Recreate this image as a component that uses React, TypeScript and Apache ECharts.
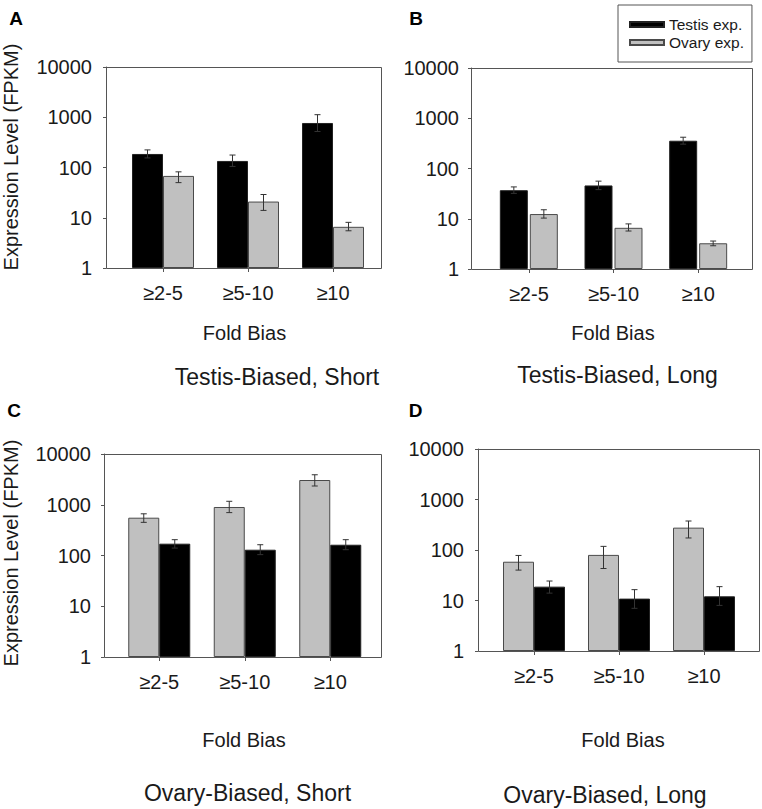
import React, { useEffect, useRef } from "react";
import * as echarts from "echarts";

// ---------- data ----------
const categories = ["≥2-5", "≥5-10", "≥10"];
const yTickValues = [1, 10, 100, 1000, 10000];

// Panel A: Testis-Biased, Short
const testisA = [186, 135, 769];
const testisAHi = [224, 177, 1125];
const testisALo = [155, 105, 520];
const ovaryA = [68, 21, 6.6];
const ovaryAHi = [82, 29, 8.1];
const ovaryALo = [50, 14, 5.5];

// Panel B: Testis-Biased, Long
const testisB = [37, 46, 357];
const testisBHi = [43, 56, 419];
const testisBLo = [32, 38, 305];
const ovaryB = [12.4, 6.6, 3.25];
const ovaryBHi = [15.1, 7.9, 3.6];
const ovaryBLo = [10.3, 5.7, 2.9];

// Panel C: Ovary-Biased, Short
const ovaryC = [556, 903, 3073];
const ovaryCHi = [663, 1170, 3900];
const ovaryCLo = [450, 700, 2340];
const testisC = [171, 130, 163];
const testisCHi = [205, 163, 205];
const testisCLo = [140, 104, 130];

// Panel D: Ovary-Biased, Long
const ovaryD = [58.6, 80, 277];
const ovaryDHi = [78, 118, 375];
const ovaryDLo = [40, 43, 173];
const testisD = [18.8, 10.9, 12.1];
const testisDHi = [24.3, 16.4, 18.8];
const testisDLo = [14, 7, 8];

const panelLetters = ["A", "B", "C", "D"];
const panelTitles = [
  "Testis-Biased, Short",
  "Testis-Biased, Long",
  "Ovary-Biased, Short",
  "Ovary-Biased, Long",
];
const xAxisTitle = "Fold Bias";
const yAxisTitle = "Expression Level (FPKM)";
const seriesNames = ["Testis exp.", "Ovary exp."];

// ---------- styles / layout ----------
const FONT = '"Liberation Sans", Arial, Helvetica, sans-serif';
const TEXT = "#1a1a1a";
const FRAME = "#555";
const BLACK = "#000000";
const GRAY = "#c0c0c0";

type Layout = {
  frame: [number, number, number, number];
  gridLeft: number;
  gridWidth: number;
  barWidth: number;
  barGapPx: number;
  yMargin: number;
  xMargin: number;
  letter: [number, number];
  foldBias: [number, number];
  title: [number, number];
  yTitle?: [number, number];
};

const layouts: Layout[] = [
  {
    frame: [106, 67, 275, 201],
    gridLeft: 120.5,
    gridWidth: 255,
    barWidth: 31,
    barGapPx: 0,
    yMargin: 14,
    xMargin: 15,
    letter: [16, 18.5],
    foldBias: [244.5, 333],
    title: [277, 377],
    yTitle: [11, 157],
  },
  {
    frame: [471, 68, 281, 201],
    gridLeft: 486.5,
    gridWidth: 254,
    barWidth: 28,
    barGapPx: 2,
    yMargin: 12,
    xMargin: 15,
    letter: [416, 18.5],
    foldBias: [613, 333],
    title: [617.5, 375],
  },
  {
    frame: [104, 454, 277, 203],
    gridLeft: 116.5,
    gridWidth: 256.5,
    barWidth: 31,
    barGapPx: 0,
    yMargin: 13,
    xMargin: 15,
    letter: [14, 410],
    foldBias: [244, 740],
    title: [247.5, 793],
    yTitle: [11, 553],
  },
  {
    frame: [478, 449, 281, 202],
    gridLeft: 491.5,
    gridWidth: 255,
    barWidth: 31,
    barGapPx: 0,
    yMargin: 14,
    xMargin: 15,
    letter: [415.5, 410.5],
    foldBias: [623, 740],
    title: [605, 795],
  },
];

type SeriesDef = { name: string; values: number[]; lo: number[]; hi: number[] };

const panelSeries: SeriesDef[][] = [
  [
    { name: seriesNames[0], values: testisA, lo: testisALo, hi: testisAHi },
    { name: seriesNames[1], values: ovaryA, lo: ovaryALo, hi: ovaryAHi },
  ],
  [
    { name: seriesNames[0], values: testisB, lo: testisBLo, hi: testisBHi },
    { name: seriesNames[1], values: ovaryB, lo: ovaryBLo, hi: ovaryBHi },
  ],
  [
    { name: seriesNames[1], values: ovaryC, lo: ovaryCLo, hi: ovaryCHi },
    { name: seriesNames[0], values: testisC, lo: testisCLo, hi: testisCHi },
  ],
  [
    { name: seriesNames[1], values: ovaryD, lo: ovaryDLo, hi: ovaryDHi },
    { name: seriesNames[0], values: testisD, lo: testisDLo, hi: testisDHi },
  ],
];

function itemStyleFor(name: string) {
  if (name === seriesNames[0]) {
    return { color: BLACK, borderColor: "#222", borderWidth: 1 };
  }
  return { color: GRAY, borderColor: "#4a4a4a", borderWidth: 1 };
}

function buildOption() {
  const grids: any[] = [];
  const xAxes: any[] = [];
  const yAxes: any[] = [];
  const series: any[] = [];
  const graphics: any[] = [];

  layouts.forEach((L, p) => {
    const [fx, fy, fw, fh] = L.frame;
    grids.push({
      left: L.gridLeft,
      top: fy,
      width: L.gridWidth,
      height: fh,
      outerBoundsMode: "none",
      containLabel: false,
    });
    xAxes.push({
      type: "category",
      gridIndex: p,
      data: categories,
      axisLine: { show: false },
      axisTick: {
        show: true,
        alignWithLabel: true,
        length: 4,
        lineStyle: { color: FRAME, width: 1 },
      },
      axisLabel: {
        color: TEXT,
        fontFamily: FONT,
        fontSize: 20,
        margin: L.xMargin,
      },
      splitLine: { show: false },
    });
    yAxes.push({
      type: "log",
      logBase: 10,
      gridIndex: p,
      min: yTickValues[0],
      max: yTickValues[yTickValues.length - 1],
      offset: L.gridLeft - fx,
      axisLine: { show: true, lineStyle: { color: FRAME, width: 1 } },
      axisTick: { show: true, length: 3, lineStyle: { color: FRAME, width: 1 } },
      minorTick: { show: false },
      splitLine: { show: false },
      axisLabel: {
        color: TEXT,
        fontFamily: FONT,
        fontSize: 20,
        margin: L.yMargin,
        formatter: (v: number) => String(Math.round(v)),
      },
    });

    const defs = panelSeries[p];
    const bw = L.barWidth;
    const gapPct = ((L.barGapPx / bw) * 100).toFixed(1) + "%";
    defs.forEach((d) => {
      series.push({
        type: "bar",
        name: d.name,
        xAxisIndex: p,
        yAxisIndex: p,
        data: d.values,
        barWidth: bw,
        barGap: gapPct,
        itemStyle: itemStyleFor(d.name),
        z: 2,
      });
    });
    defs.forEach((d, k) => {
      const off = (k === 0 ? -1 : 1) * (bw / 2 + L.barGapPx / 2);
      series.push({
        type: "custom",
        name: d.name + " error",
        xAxisIndex: p,
        yAxisIndex: p,
        z: 5,
        silent: true,
        encode: { x: 0, y: [1, 2] },
        data: categories.map((_, i) => [i, d.lo[i], d.hi[i]]),
        renderItem: (params: any, api: any) => {
          const ci = api.value(0);
          const lo = api.value(1);
          const hi = api.value(2);
          const pLo = api.coord([ci, lo]);
          const pHi = api.coord([ci, hi]);
          const x = pLo[0] + off;
          const cap = 3;
          const style = { stroke: "#333", lineWidth: 1 };
          return {
            type: "group",
            children: [
              { type: "line", shape: { x1: x, y1: pLo[1], x2: x, y2: pHi[1] }, style },
              { type: "line", shape: { x1: x - cap, y1: pHi[1], x2: x + cap, y2: pHi[1] }, style },
              { type: "line", shape: { x1: x - cap, y1: pLo[1], x2: x + cap, y2: pLo[1] }, style },
            ],
          };
        },
      });
    });

    graphics.push({
      type: "rect",
      z: 10,
      silent: true,
      shape: { x: fx + 0.5, y: fy + 0.5, width: fw, height: fh },
      style: { fill: "none", stroke: FRAME, lineWidth: 1 },
    });
    graphics.push({
      type: "text",
      x: L.letter[0],
      y: L.letter[1],
      style: {
        text: panelLetters[p],
        font: `bold 19px ${FONT}`,
        fill: "#000",
        textAlign: "center",
        textVerticalAlign: "middle",
      },
    });
    graphics.push({
      type: "text",
      x: L.foldBias[0],
      y: L.foldBias[1],
      style: {
        text: xAxisTitle,
        font: `20px ${FONT}`,
        fill: TEXT,
        textAlign: "center",
        textVerticalAlign: "middle",
      },
    });
    graphics.push({
      type: "text",
      x: L.title[0],
      y: L.title[1],
      style: {
        text: panelTitles[p],
        font: `23px ${FONT}`,
        fill: TEXT,
        textAlign: "center",
        textVerticalAlign: "middle",
      },
    });
    if (L.yTitle) {
      graphics.push({
        type: "text",
        x: L.yTitle[0],
        y: L.yTitle[1],
        rotation: Math.PI / 2,
        style: {
          text: yAxisTitle,
          font: `20px ${FONT}`,
          fill: TEXT,
          textAlign: "center",
          textVerticalAlign: "middle",
        },
      });
    }
  });

  return {
    animation: false,
    backgroundColor: "#ffffff",
    legend: {
      data: seriesNames,
      orient: "vertical",
      left: 618,
      top: 5,
      padding: [11, 8, 11, 11],
      itemGap: 1,
      itemWidth: 34,
      itemHeight: 5,
      icon: "rect",
      borderColor: FRAME,
      borderWidth: 1,
      borderRadius: 0,
      selectedMode: false,
      textStyle: { fontFamily: FONT, fontSize: 15.5, color: TEXT, lineHeight: 17 },
    },
    grid: grids,
    xAxis: xAxes,
    yAxis: yAxes,
    series,
    graphic: graphics,
  };
}

export default function App() {
  const ref = useRef<HTMLDivElement>(null);
  useEffect(() => {
    if (!ref.current) return;
    const chart = echarts.init(ref.current, undefined, { renderer: "svg" });
    chart.setOption(buildOption() as any);
    return () => chart.dispose();
  }, []);
  return (
    <div
      ref={ref}
      style={{ position: "absolute", left: 0, top: 0, width: 762, height: 809, background: "#fff" }}
    />
  );
}
